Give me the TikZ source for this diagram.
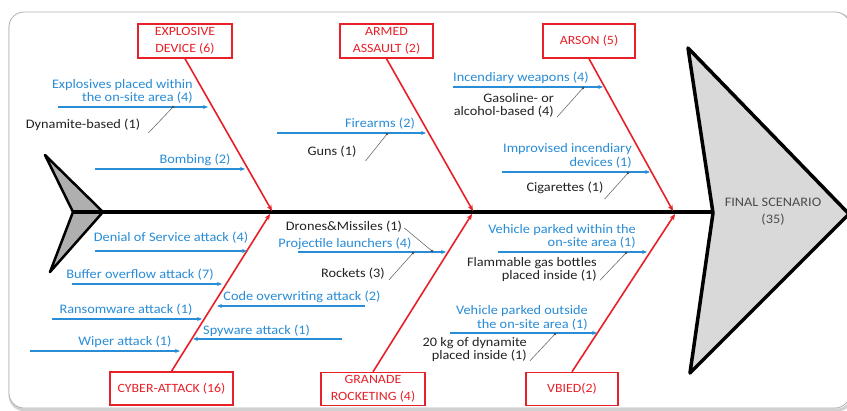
\documentclass[tikz,border=0pt]{standalone}
\usepackage{fontspec}
\setmainfont{Carlito}[FakeStretch=1.1]
\usetikzlibrary{arrows.meta,calc}
\definecolor{cblue}{RGB}{40,140,215}
\definecolor{cred}{RGB}{232,32,40}
\definecolor{ctext}{RGB}{35,35,35}
\definecolor{leadc}{RGB}{110,110,110}
\definecolor{headfill}{RGB}{217,217,217}
\definecolor{tailfill}{RGB}{175,175,175}
\tikzset{
 cat/.style={draw=cred, line width=1.4pt, fill=white, text=cred, align=center, minimum height=34pt, inner sep=1pt, font=\fontsize{12.6}{16.5}\selectfont},
 bone/.style={cred, line width=1.6pt, -{Stealth[length=6pt,width=5pt]}},
 cause/.style={cblue, line width=1.3pt, -{Stealth[length=5pt,width=4pt]}},
 blab/.style={text=cblue, inner sep=1pt, font=\fontsize{13}{13.5}\selectfont},
 klab/.style={text=ctext, inner sep=1pt, font=\fontsize{13}{13}\selectfont},
 leader/.style={leadc, line width=0.6pt},
 tipdot/.style={fill=black!70}
}
\begin{document}
\begin{tikzpicture}[x=1pt,y=-1pt]
\useasboundingbox (0,0) rectangle (847,411);
\fill[white] (0,0) rectangle (847,411);
% frame with soft shadow
\draw[black!18, line width=3pt, rounded corners=15pt] (10,14) rectangle (852,410);
\fill[white, rounded corners=15pt] (9,12) rectangle (850,408);
\draw[black!30, line width=0.8pt, rounded corners=15pt] (9,12) rectangle (850,408);

% tail
\draw[black, line width=2.5pt, line join=round, fill=tailfill] (45,155) -- (103,212) -- (50,272) -- (73,212) -- cycle;
% head
\draw[black, line width=3.5pt, line join=round, fill=headfill] (688,48) -- (849,214) -- (690,373) -- (713,213) -- cycle;
\node[text=black!70, align=center, font=\fontsize{13}{17}\selectfont] (fin) at (773,212) {FINAL SCENARIO\\(35)};
% spine
\coordinate (tail) at (73,212);
\coordinate (head) at (714,212);
\draw[black, line width=4pt] (tail) -- (head);

% category boxes
\node[cat, minimum width=94pt] (exp) at (185,41) {EXPLOSIVE\\DEVICE (6)};
\node[cat, minimum width=93pt] (arm) at (386.5,41) {ARMED\\ASSAULT (2)};
\node[cat, minimum width=92pt] (ars) at (589,41) {ARSON (5)};
\node[cat, minimum width=123pt, minimum height=33pt] (cyb) at (171.5,388.5) {CYBER-ATTACK (16)};
\node[cat, minimum width=104pt, minimum height=33pt] (gra) at (373,389) {GRANADE\\ROCKETING (4)};
\node[cat, minimum width=92pt, minimum height=33pt] (vbi) at (572,389) {VBIED(2)};

% spine points
\coordinate (s1) at (272,211);
\coordinate (s2) at (473,211);
\coordinate (s3) at (673,211);
\coordinate (s4) at (270,214);
\coordinate (s5) at (472,214);
\coordinate (s6) at (675,214);
\draw[bone] (exp.south) -- (s1);
\draw[bone] (arm.south) -- (s2);
\draw[bone] (ars.south) -- (s3);
\draw[bone] (cyb.north) -- (s4);
\draw[bone] (gra.north) -- (s5);
\draw[bone] (vbi.north) -- (s6);

% cause arrows
\coordinate (a1s) at (58,107);  \coordinate (a1e) at (208,107);
\coordinate (a2s) at (95,169);  \coordinate (a2e) at (245,169);
\coordinate (a3s) at (277,133); \coordinate (a3e) at (426,133);
\coordinate (a4s) at (453,87);  \coordinate (a4e) at (603,87);
\coordinate (a5s) at (502,172); \coordinate (a5e) at (650,172);
\coordinate (a6s) at (95,251);  \coordinate (a6e) at (247,251);
\coordinate (a7s) at (72,284);  \coordinate (a7e) at (222,284);
\coordinate (a8s) at (365,306); \coordinate (a8e) at (217,306);
\coordinate (a9s) at (52,319);  \coordinate (a9e) at (202,319);
\coordinate (a10s) at (342,339); \coordinate (a10e) at (193,339);
\coordinate (a11s) at (30,351); \coordinate (a11e) at (180,351);
\coordinate (a12s) at (298,252); \coordinate (a12e) at (446,252);
\coordinate (a13s) at (498,252); \coordinate (a13e) at (647,252);
\coordinate (a14s) at (450,333); \coordinate (a14e) at (597,333);
\foreach \i in {1,...,14} {\draw[cause] (a\i s) -- (a\i e);}

% blue labels
\node[blab, align=right, anchor=east] (l1) at (194,91.5) {Explosives placed within\\the on-site area (4)};
\node[blab] (l2) at (195,160) {Bombing (2)};
\node[blab] (l3) at (380,124) {Firearms (2)};
\node[blab] (l4) at (521,78) {Incendiary weapons (4)};
\node[blab, align=right, anchor=east] (l5) at (633,156) {Improvised incendiary\\devices (1)};
\node[blab] (l6) at (171,238) {Denial of Service attack (4)};
\node[blab] (l7) at (140,275) {Buffer overflow attack (7)};
\node[blab] (l8) at (302,297) {Code overwriting attack (2)};
\node[blab] (l9) at (126,310) {Ransomware attack (1)};
\node[blab, anchor=west] (l10) at (202,331) {Spyware attack (1)};
\node[blab] (l11) at (125,342) {Wiper attack (1)};
\node[blab] (l12) at (345,244) {Projectile launchers (4)};
\node[blab, align=right, anchor=east] (l13) at (637,236.5) {Vehicle parked within the\\on-site area (1)};
\node[blab, align=right, anchor=east] (l14) at (589,318) {Vehicle parked outside\\the on-site area (1)};

% black labels
\node[klab] (dyn) at (83,125) {Dynamite-based (1)};
\node[klab] (guns) at (332,152) {Guns (1)};
\node[klab, align=right, anchor=east] (gas) at (555,105) {Gasoline- or\\alcohol-based (4)};
\node[klab] (cig) at (565,188) {Cigarettes (1)};
\node[klab] (dro) at (344,227) {Drones\&Missiles (1)};
\node[klab] (roc) at (353,274) {Rockets (3)};
\node[klab, align=right, anchor=east] (fla) at (598,270) {Flammable gas bottles\\placed inside (1)};
\node[klab, align=right, anchor=east] (dyn20) at (528,349.5) {20 kg of dynamite\\placed inside (1)};

% leader points
\coordinate (d1) at (173,107);
\coordinate (d2) at (387,134);
\coordinate (d3) at (583,88);
\coordinate (d4) at (628,173);
\coordinate (d5) at (432,251);
\coordinate (d6) at (413,253);
\coordinate (d7) at (626,253);
\coordinate (d8) at (555,334);
\draw[leader] ($(dyn.south east)+(7,1)$) -- (d1);
\draw[leader] ($(guns.south east)+(8,2)$) -- (d2);
\draw[leader] ($(gas.south east)+(2,-1)$) -- (d3);
\draw[leader] ($(cig.south east)+(0,4)$) -- (d4);
\draw[leader] ($(dro.east)+(1,1)$) -- (d5);
\draw[leader] ($(roc.south east)+(3,-1)$) -- (d6);
\draw[leader] ($(fla.south east)+(2,-3)$) -- (d7);
\draw[leader] ($(dyn20.south east)+(2,-2)$) -- (d8);
\foreach \d in {d1,d2,d3,d4,d5,d6,d7,d8} {\fill[tipdot] (\d) circle (1.3pt);}
\end{tikzpicture}
\end{document}
